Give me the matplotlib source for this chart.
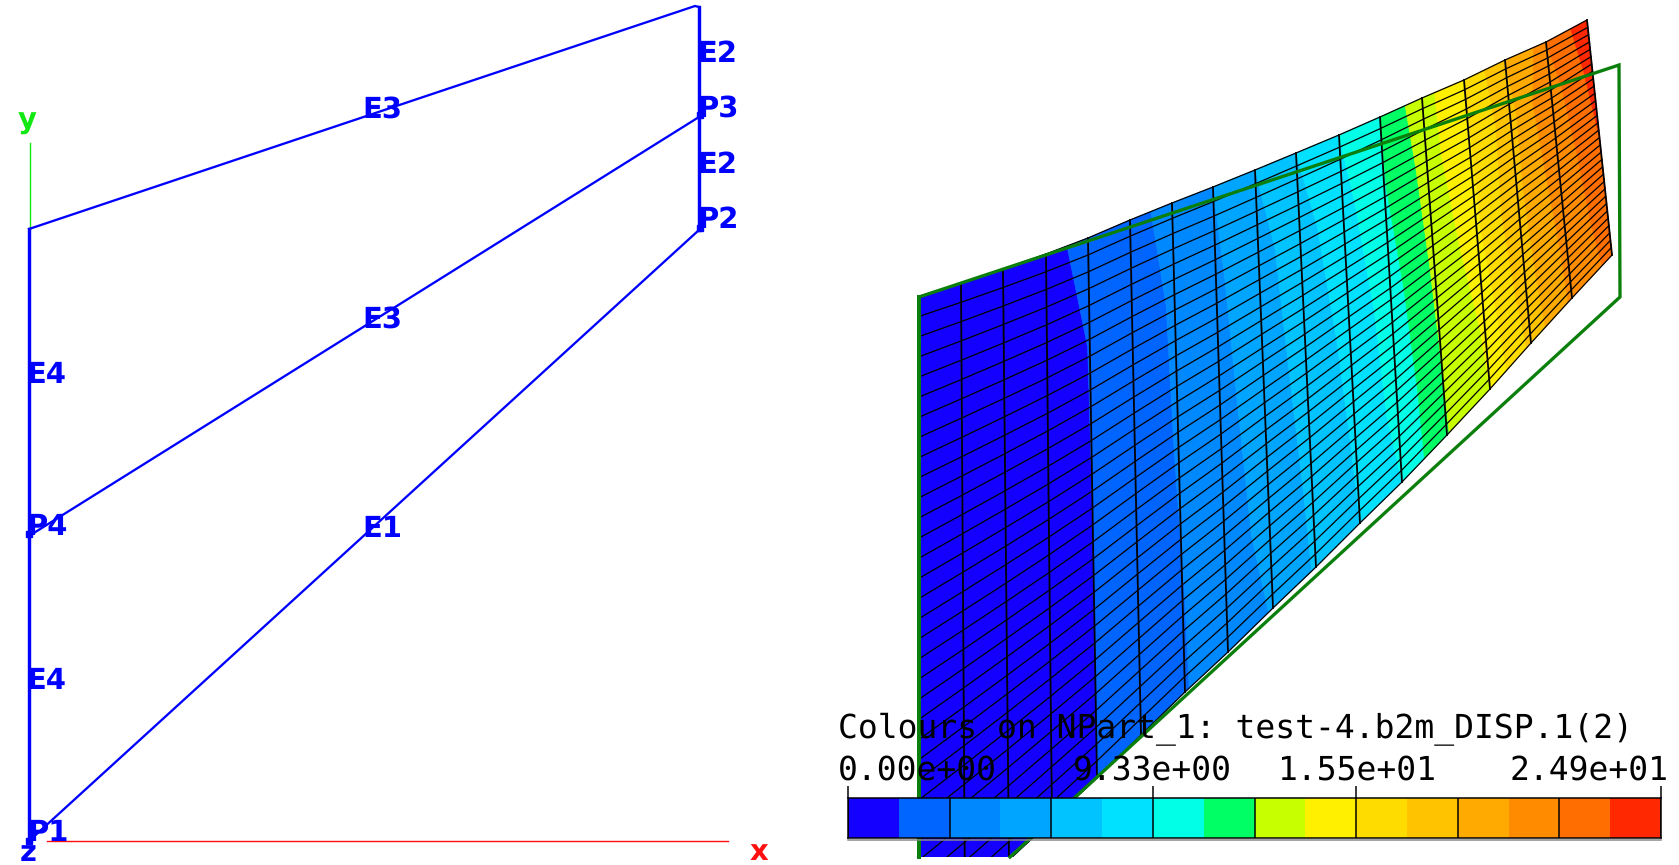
import numpy as np
import matplotlib
matplotlib.use("Agg")
import matplotlib.pyplot as plt
from matplotlib.patches import Rectangle

plt.rcParams["text.hinting"] = "no_hinting"
plt.rcParams["text.hinting_factor"] = 1

# ---- left panel: geometry sketch (image pixel coordinates) ----
edge_lines = [
    ([29, 29], [229, 841], 3.4),
    ([699, 699], [7, 230], 3.4),
    ([29, 695, 699], [229, 6, 7], 2.3),
    ([29, 699], [536, 117], 2.3),
    ([29, 699], [841, 230], 2.3),
]
point_x = [29, 29, 700, 700]
point_y = [841, 534, 228, 115]
point_names = ["P1", "P4", "P2", "P3"]
label_x = [27, 26, 697, 697]
label_y = [841, 535, 228, 117]
edge_names = ["E2", "E2", "E3", "E3", "E1", "E4", "E4"]
edge_x = [697, 697, 362, 362, 362, 26, 26]
edge_y = [62, 173, 118, 328, 537, 383, 689]

# ---- right panel: deformed mesh ----
top_x = [920, 961, 1003, 1046, 1088, 1130, 1172, 1213, 1255, 1296, 1339, 1380, 1422, 1464, 1505, 1546, 1587]
top_y = [296, 283, 269, 254, 238, 220, 203, 187, 170, 153, 135, 117, 98, 80, 60, 42, 20]
bot_x = [920, 965, 1009, 1052, 1097, 1141, 1185, 1228, 1273, 1316, 1360, 1402, 1447, 1490, 1531, 1572, 1612]
bot_y = [940, 900, 860, 820, 778, 735, 692, 652, 608, 567, 523, 482, 435, 389, 343, 298, 255]
n_rows = 32
outline_x = [919, 919, 1619, 1620, 1010]
outline_y = [857, 297, 65, 297, 857]

# contour band limits in mesh-column units, per station down the mesh
station_t = [0.0, 0.2, 0.5, 0.8, 1.0]
band_limits = [
    [3.5, 5.5, 7.0, 8.0, 9.0, 10.0, 11.0, 11.6, 12.3, 13.0, 13.5, 14.0, 14.7, 15.0, 15.6],
    [3.95, 5.8, 7.2, 8.4, 9.4, 10.3, 11.05, 11.75, 12.35, 13.05, 13.65, 14.15, 14.55, 15.25, 15.8],
    [4.0, 5.9, 7.4, 8.6, 9.7, 10.6, 11.3, 11.9, 12.6, 13.1, 13.6, 14.15, 14.7, 15.45, 16.0],
    [4.0, 6.05, 7.6, 8.8, 9.9, 10.75, 11.45, 12.0, 12.9, 13.3, 13.75, 14.25, 14.85, 15.6, 16.0],
    [4.0, 6.1, 7.9, 8.9, 10.0, 11.0, 11.5, 12.05, 13.0, 13.4, 13.9, 14.35, 14.9, 15.75, 16.0],
]
band_colors = ["#1400ff", "#0064ff", "#0088ff", "#00a5ff", "#00c3ff", "#00e1ff", "#00ffe6", "#00ff64",
               "#c8ff00", "#fff000", "#ffdc00", "#ffc300", "#ffaa00", "#ff8c00", "#ff6e00", "#ff2800"]

# ---- colour scale ----
scale_max = 24.9
tick_values = [0.0, 9.33, 15.56, 24.9]
tick_labels = ["0.00e+00", "9.33e+00", "1.55e+01", "2.49e+01"]
scale_title = "Colours on NPart_1: test-4.b2m_DISP.1(2)"

BLUE = "#0000ff"
GREEN = "#0b7f0b"
W, H = 1679, 865

fig = plt.figure(figsize=(W / 100, H / 100), dpi=100, facecolor="white")
ax = fig.add_axes([0, 0, 1, 1])
ax.set_xlim(0, W)
ax.set_ylim(H, 0)
ax.axis("off")


def px(v):
    return v * 0.72


def to_xy(s, t):
    s = np.asarray(s, float)
    cols = np.arange(len(top_x))
    xa, ya = np.interp(s, cols, top_x), np.interp(s, cols, top_y)
    xb, yb = np.interp(s, cols, bot_x), np.interp(s, cols, bot_y)
    return xa + (xb - xa) * t, ya + (yb - ya) * t


def edge_run(s0, s1):
    inner = np.arange(np.ceil(min(s0, s1)), np.floor(max(s0, s1)) + 1)
    run = np.unique(np.r_[s0, inner, s1])
    return run


clip = Rectangle((900, 0), 779, 857, transform=ax.transData)
limits = np.array(band_limits)
left_side = np.column_stack([np.zeros(len(station_t)), limits])
right_side = np.column_stack([limits, np.full(len(station_t), 16.0)])
for i, col in enumerate(band_colors):
    lo, hi = left_side[:, i], right_side[:, i]
    xs, ys = [], []
    a, b = to_xy(edge_run(lo[0], hi[0]), 0.0)
    xs += list(a); ys += list(b)
    for s, t in zip(hi[1:-1], station_t[1:-1]):
        a, b = to_xy(s, t)
        xs.append(float(a)); ys.append(float(b))
    a, b = to_xy(edge_run(lo[-1], hi[-1])[::-1], 1.0)
    xs += list(a); ys += list(b)
    for s, t in zip(lo[-2:0:-1], station_t[-2:0:-1]):
        a, b = to_xy(s, t)
        xs.append(float(a)); ys.append(float(b))
    p, = ax.fill(xs, ys, facecolor=col, edgecolor=col, lw=0.5, zorder=1)
    p.set_clip_path(clip)

for c in range(len(top_x)):
    ln, = ax.plot([top_x[c], bot_x[c]], [top_y[c], bot_y[c]], color="black", lw=px(1.8), zorder=2)
    ln.set_clip_path(clip)
for r in range(n_rows + 1):
    t = r / n_rows
    sx, sy = to_xy(np.arange(len(top_x)), t)
    ln, = ax.plot(sx, sy, color="black", lw=px(1.25), zorder=2)
    ln.set_clip_path(clip)

ax.plot(outline_x[1:], outline_y[1:], color=GREEN, lw=px(3.3), zorder=3, solid_joinstyle="miter")
ax.plot(outline_x[:2], outline_y[:2], color=GREEN, lw=px(4.0), zorder=3)

# left panel
ax.plot([29.5, 29.5], [143, 229], color="#11e811", lw=px(1.4), zorder=3)
ax.plot([47, 728], [841, 841], color="#ff1010", lw=px(1.4), zorder=3)
for xs, ys, w in edge_lines:
    ax.plot(xs, ys, color=BLUE, lw=px(w), zorder=4)
ax.plot(point_x, point_y, ls="none", marker="s", ms=px(6), color=BLUE, zorder=4)
font = dict(family="DejaVu Sans", fontweight="bold", fontsize=21, va="baseline", ha="left", zorder=5)
for n, x, y in zip(point_names, label_x, label_y):
    ax.text(x, y, n, color=BLUE, **font)
for n, x, y in zip(edge_names, edge_x, edge_y):
    ax.text(x, y, n, color=BLUE, **font)
ax.text(20, 861, "z", color=BLUE, **font)
ax.text(18, 129, "y", color="#11e811", **font)
ax.text(750, 860, "x", color="#ff1010", **font)

mono = dict(family="DejaVu Sans Mono", fontsize=24.1, color="black", va="baseline")
ax.text(838, 738, scale_title, ha="left", zorder=6, **mono)
ax.plot([848, 1661], [840, 840], color="#888888", lw=px(1.5), zorder=3)

# colour scale axes
cax = fig.add_axes([848 / W, 1 - 838 / H, (1661 - 848) / W, 40 / H])
cax.set_xlim(0, scale_max)
cax.set_ylim(0, 1)
step = scale_max / len(band_colors)
cax.bar(np.arange(len(band_colors)) * step, 1, width=step, align="edge", color=band_colors, lw=0)
cax.vlines(np.arange(0, len(band_colors) + 1, 2) * step, 0, 1, color="black", lw=px(1.5))
cax.set_yticks([])
cax.xaxis.tick_top()
cax.set_xticks(tick_values)
cax.set_xticklabels([])
cax.tick_params(axis="x", length=px(12), width=px(1.5), color="black")
for sp in cax.spines.values():
    sp.set_linewidth(px(1.5))
offsets = [(-10, "left"), (0, "center"), (0, "center"), (8, "right")]
for v, lab, (dx, ha) in zip(tick_values, tick_labels, offsets):
    cax.annotate(lab, (v, 1), xycoords=cax.get_xaxis_transform(), xytext=(dx, 18),
                 textcoords="offset pixels", ha=ha, annotation_clip=False, **mono)

fig.savefig("out.png", dpi=100)
